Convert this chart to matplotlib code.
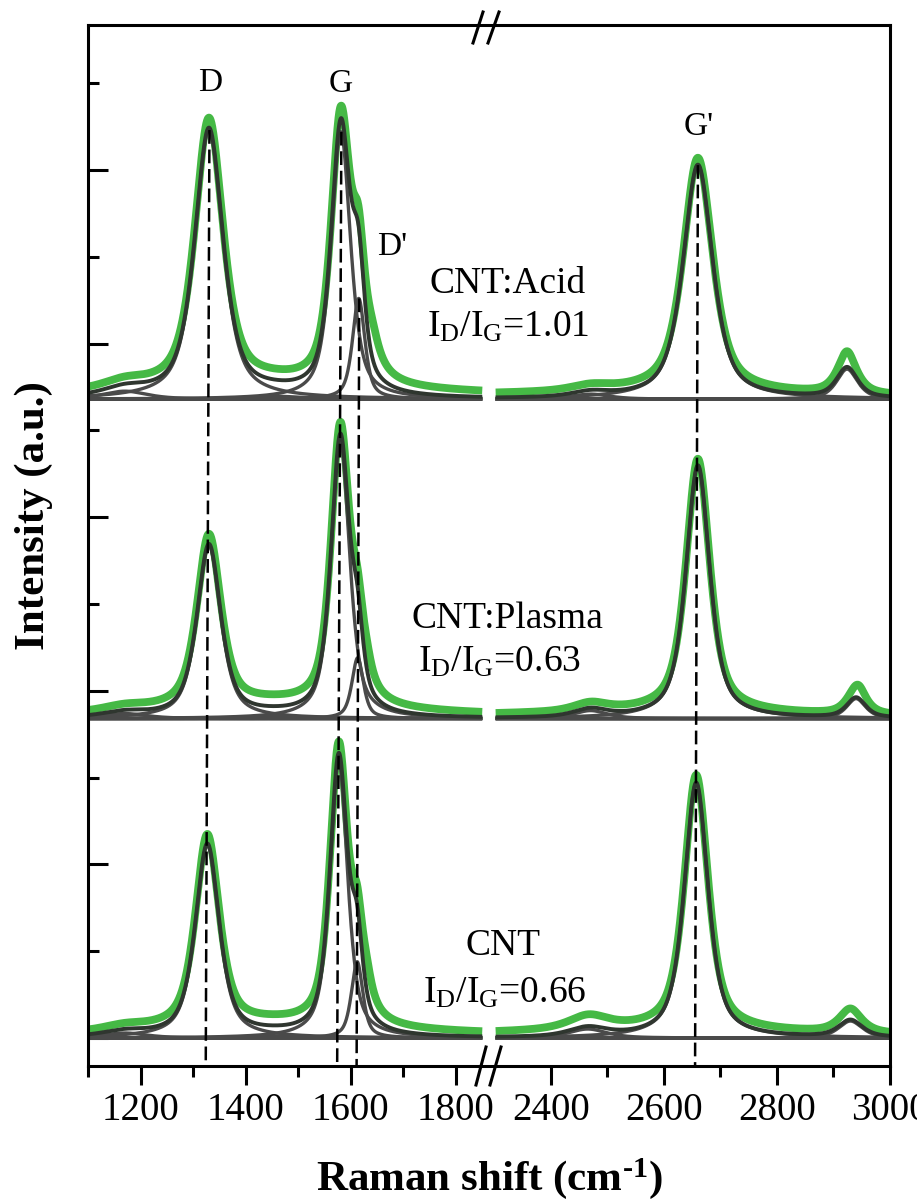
import numpy as np
import matplotlib
matplotlib.use("Agg")
import matplotlib.pyplot as plt
from matplotlib.ticker import FixedLocator, NullFormatter
from matplotlib.lines import Line2D

plt.rcParams['font.family'] = ['Liberation Serif', 'DejaVu Serif']
plt.rcParams['mathtext.fontset'] = 'custom'
plt.rcParams['mathtext.rm'] = 'Liberation Serif'
plt.rcParams['mathtext.it'] = 'Liberation Serif:italic'
plt.rcParams['mathtext.bf'] = 'Liberation Serif:bold'

# ---------------- data ----------------
samples = ['CNT:Acid', 'CNT:Plasma', 'CNT']
ratios = ['1.01', '0.63', '0.66']
offsets = [3.68, 1.84, 0.0]

# fitted peak components: centre (cm-1), height (a.u.), half width (cm-1)
centers_acid = [1170, 1330, 1455, 1581, 1615, 2470, 2660, 2924]
heights_acid = [0.046, 1.55, 0.017, 1.54, 0.58, 0.029, 1.348, 0.173]
hwhm_acid = [50, 32, 60, 22, 14, 40, 31, 22]

centers_plasma = [1170, 1330, 1455, 1580, 1613, 2470, 2660, 2940]
heights_plasma = [0.029, 0.995, 0.012, 1.60, 0.35, 0.046, 1.457, 0.115]
hwhm_plasma = [50, 27, 60, 21, 13, 35, 25, 20]

centers_cnt = [1170, 1327, 1455, 1577, 1612, 2465, 2657, 2930]
heights_cnt = [0.029, 1.11, 0.012, 1.596, 0.44, 0.052, 1.469, 0.098]
hwhm_cnt = [50, 27, 60, 20, 13, 40, 25, 25]

# measured-spectrum excess over the fit (broad background / shoulders)
extra_centers_acid = [1450, 1640, 2600, 2924]
extra_heights_acid = [0.06, 0.17, 0.035, 0.07]
extra_hwhm_acid = [400, 18, 300, 15]

extra_centers_plasma = [1450, 1630, 2600, 2945]
extra_heights_plasma = [0.065, 0.12, 0.035, 0.058]
extra_hwhm_plasma = [300, 15, 300, 15]

extra_centers_cnt = [1450, 1630, 2470, 2600, 2930]
extra_heights_cnt = [0.06, 0.15, 0.028, 0.04, 0.04]
extra_hwhm_cnt = [300, 15, 50, 350, 20]

# dashed guide lines (peak positions at top and bottom)
guide_top_x = [1331, 1582, 1616, 2660]
guide_bottom_x = [1324, 1574, 1611, 2655]
guide_peak_index = [1, 3, 4, 6]

peak_names = ['D', 'G', "D'", "G'"]

x_major = [1200, 1400, 1600, 1800, 2400, 2600, 2800, 3000]
x_minor = [1100, 1300, 1500, 1700, 2500, 2700, 2900]
y_major = [0, 1, 2, 3, 4, 5]
y_minor = [0.5, 1.5, 2.5, 3.5, 4.5, 5.5]

ETA = 0.65  # Lorentzian fraction of the pseudo-Voigt line shape

comp_sets = [(centers_acid, heights_acid, hwhm_acid),
             (centers_plasma, heights_plasma, hwhm_plasma),
             (centers_cnt, heights_cnt, hwhm_cnt)]
extra_sets = [(extra_centers_acid, extra_heights_acid, extra_hwhm_acid),
              (extra_centers_plasma, extra_heights_plasma, extra_hwhm_plasma),
              (extra_centers_cnt, extra_heights_cnt, extra_hwhm_cnt)]

# ---------------- broken x scale ----------------
XB = np.array([1100.0, 1860.0, 2300.0, 3000.0])
PB = np.array([0.0, 399.5, 406.5, 802.0])


def fwd(v):
    v = np.asarray(v, dtype=float)
    out = np.interp(v, XB, PB)
    out = np.where(v < XB[0], PB[0] + (v - XB[0]) * 0.5257, out)
    out = np.where(v > XB[-1], PB[-1] + (v - XB[-1]) * 0.565, out)
    return out


def inv(p):
    p = np.asarray(p, dtype=float)
    out = np.interp(p, PB, XB)
    out = np.where(p < PB[0], XB[0] + (p - PB[0]) / 0.5257, out)
    out = np.where(p > PB[-1], XB[-1] + (p - PB[-1]) / 0.565, out)
    return out


def lor(x, c, h, w):
    return h / (1.0 + ((x - c) / w) ** 2)


def pvoigt(x, c, h, w):
    u = (x - c) / w
    return h * (ETA / (1.0 + u ** 2) + (1 - ETA) * np.exp(-np.log(2) * u ** 2))


W, H = 917, 1200
fig = plt.figure(figsize=(W / 100, H / 100), dpi=100)
ax = fig.add_axes([88 / W, 1 - 1066 / H, 802 / W, 1041 / H])
ax.set_xscale('function', functions=(fwd, inv))
ax.set_xlim(1100, 3000)
ax.set_ylim(-0.161, 5.835)

x = np.concatenate([np.arange(1100, 1850.5, 0.5), [np.nan],
                    np.arange(2302, 3000.5, 0.5)])

GREEN = '#45b945'
FIT = '#2f362f'
COMP = '#4a4a4a'

for off, (cc, hh, ww), (ec, eh, ew) in zip(offsets, comp_sets, extra_sets):
    comps = [pvoigt(x, c, h, w) for c, h, w in zip(cc, hh, ww)]
    fit = np.sum(comps, axis=0)
    extra = np.sum([lor(x, c, h, w) for c, h, w in zip(ec, eh, ew)], axis=0)
    ax.plot(x, off + fit + extra, color=GREEN, lw=5.6, zorder=2,
            solid_capstyle='butt')
    for comp in comps:
        ax.plot(x, off + comp, color=COMP, lw=2.4, zorder=3,
                solid_capstyle='butt')
    ax.plot(x, off + fit, color=FIT, lw=2.8, zorder=4, solid_capstyle='butt')

# dashed guides
top_c, top_h, _ = comp_sets[0]
for xt, xb, idx in zip(guide_top_x, guide_bottom_x, guide_peak_index):
    ax.plot([xt, xb], [offsets[0] + top_h[idx], -0.161], color='black',
            lw=1.8, ls=(0, (5.5, 2.3)), zorder=6, clip_on=False)

# axes styling
for s in ax.spines.values():
    s.set_linewidth(2.2)
    s.set_zorder(7)
ax.xaxis.set_major_locator(FixedLocator(x_major))
ax.xaxis.set_minor_locator(FixedLocator(x_minor))
ax.xaxis.set_minor_formatter(NullFormatter())
ax.set_xticklabels([str(v) for v in x_major])
ax.yaxis.set_major_locator(FixedLocator(y_major))
ax.yaxis.set_minor_locator(FixedLocator(y_minor))
ax.yaxis.set_major_formatter(NullFormatter())
ax.tick_params(axis='x', which='both', direction='out', top=False,
               width=2.2, labelsize=28, pad=5)
ax.tick_params(axis='x', which='major', length=14)
ax.tick_params(axis='x', which='minor', length=8)
ax.tick_params(axis='y', which='both', direction='in', right=False,
               width=2.2)
ax.tick_params(axis='y', which='major', length=14.5)
ax.tick_params(axis='y', which='minor', length=8)


# axis break marks
def fx(px):
    return px / W


def fy(py):
    return 1 - py / H


for (x0, y0, x1, y1) in [(476, 1085, 486, 1047), (490, 1085, 501, 1047),
                         (473, 43, 483, 12), (488, 43, 499, 12)]:
    fig.add_artist(Line2D([fx(x0), fx(x1)], [fy(y0), fy(y1)], color='black',
                          lw=2.2, transform=fig.transFigure, zorder=10))

# axis labels
fig.text(fx(489), fy(1190), 'Raman shift (cm$^{\\mathbf{\u2010}\\mathbf{1}}$)',
         ha='center', va='baseline', fontsize=31, fontweight='bold')
fig.text(fx(34), fy(516), 'Intensity (a.u.)', ha='center', va='center',
         rotation=90, fontsize=31, fontweight='bold')

# peak labels
for name, (px, py) in zip(peak_names, [(210, 91), (341, 92), (392, 255),
                                        (699, 135)]):
    fig.text(fx(px), fy(py), name, ha='center', va='baseline', fontsize=24)

# sample labels
label_pos = [((508, 293), (508, 337)), ((507, 628), (500, 672)),
             ((503, 955), (505, 1003))]
for name, r, (p1, p2) in zip(samples, ratios, label_pos):
    fig.text(fx(p1[0]), fy(p1[1]), name, ha='center', va='baseline',
             fontsize=27)
    fig.text(fx(p2[0]), fy(p2[1]), r'I$_{\rm D}$/I$_{\rm G}$=' + r,
             ha='center', va='baseline', fontsize=27)

fig.savefig('out.png', dpi=100)
